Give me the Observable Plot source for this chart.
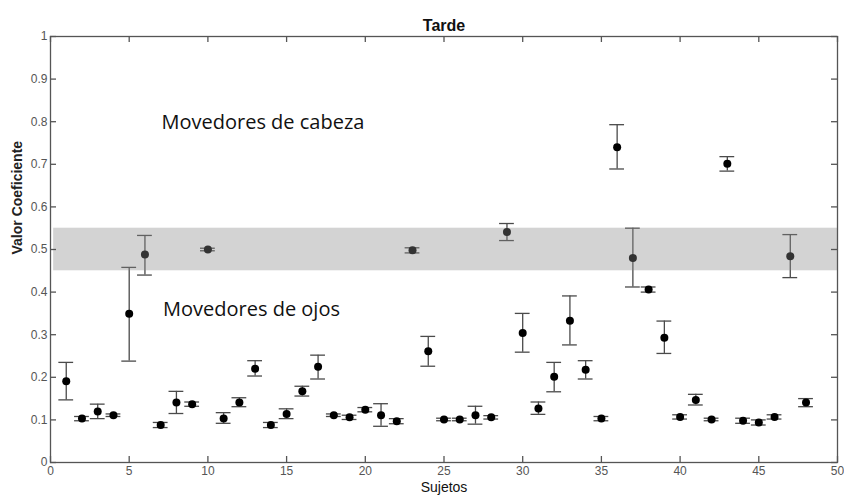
<!DOCTYPE html>
<html>
<head>
<meta charset="utf-8">
<script src="https://cdn.jsdelivr.net/npm/d3@7"></script>
<script src="https://cdn.jsdelivr.net/npm/@observablehq/plot@0.6"></script>
<style>
  html, body { margin: 0; padding: 0; background: #fff; }
  svg { display: block; }
</style>
</head>
<body>
<div id="chart"></div>
<script>
// Subjects (x) and coefficient values with error bar bounds
const subjects = [1,2,3,4,5,6,7,8,9,10,11,12,13,14,15,16,17,18,19,20,21,22,23,24,25,26,27,28,29,30,31,32,33,34,35,36,37,38,39,40,41,42,43,44,45,46,47,48];
const values = [0.191,0.103,0.120,0.111,0.349,0.488,0.088,0.141,0.137,0.500,0.103,0.141,0.220,0.088,0.114,0.167,0.225,0.111,0.106,0.124,0.111,0.097,0.498,0.261,0.101,0.101,0.111,0.106,0.541,0.304,0.127,0.201,0.333,0.218,0.103,0.740,0.480,0.406,0.293,0.107,0.147,0.101,0.701,0.098,0.094,0.107,0.484,0.141];
const lower  = [0.147,0.098,0.103,0.108,0.238,0.440,0.082,0.115,0.132,0.497,0.092,0.131,0.203,0.082,0.103,0.156,0.196,0.108,0.101,0.119,0.085,0.091,0.492,0.226,0.098,0.098,0.090,0.102,0.521,0.259,0.113,0.166,0.276,0.196,0.098,0.689,0.412,0.400,0.256,0.102,0.135,0.098,0.684,0.092,0.088,0.102,0.434,0.131];
const upper  = [0.235,0.108,0.137,0.114,0.458,0.533,0.094,0.167,0.142,0.503,0.117,0.152,0.239,0.094,0.126,0.179,0.252,0.114,0.111,0.129,0.138,0.103,0.504,0.296,0.104,0.104,0.132,0.110,0.561,0.350,0.142,0.235,0.391,0.239,0.108,0.793,0.550,0.412,0.332,0.112,0.160,0.104,0.718,0.104,0.100,0.112,0.535,0.150];

const xTicks = [0,5,10,15,20,25,30,35,40,45,50];
const yTicks = [0,0.1,0.2,0.3,0.4,0.5,0.6,0.7,0.8,0.9,1];
const yTickLabels = ["0","0.1","0.2","0.3","0.4","0.5","0.6","0.7","0.8","0.9","1"];

const band = [{x1: 0.2, x2: 50, y1: 0.45, y2: 0.55}];
const annotations = [
  {x: 7.05, y: 0.783, text: "Movedores de cabeza"},
  {x: 7.15, y: 0.343, text: "Movedores de ojos"}
];
const title = "Tarde";
const xLabel = "Sujetos";
const yLabel = "Valor Coeficiente";

const data = subjects.map((s, i) => ({x: s, y: values[i], lo: lower[i], hi: upper[i]}));

const W = 844, H = 496;
const mL = 50, mR = 7, mT = 36, mB = 34;
const plotW = W - mL - mR, plotH = H - mT - mB;
const tickLen = 6;
const capHalf = 0.47;
const axisColor = "#555";

const chart = Plot.plot({
  width: W,
  height: H,
  marginLeft: mL,
  marginRight: mR,
  marginTop: mT,
  marginBottom: mB,
  style: {fontFamily: "'Liberation Sans', Arial, sans-serif", background: "#fff"},
  x: {domain: [0, 50]},
  y: {domain: [0, 1]},
  marks: [
    // error bars
    Plot.ruleX(data, {x: "x", y1: "lo", y2: "hi", stroke: "#4a4a4a", strokeWidth: 1.3}),
    Plot.ruleY(data, {y: "lo", x1: d => d.x - capHalf, x2: d => d.x + capHalf, stroke: "#4a4a4a", strokeWidth: 1.3}),
    Plot.ruleY(data, {y: "hi", x1: d => d.x - capHalf, x2: d => d.x + capHalf, stroke: "#4a4a4a", strokeWidth: 1.3}),
    Plot.dot(data, {x: "x", y: "y", r: 4, fill: "#000", stroke: "none"}),
    // translucent gray band on top
    Plot.rect(band, {x1: "x1", x2: "x2", y1: "y1", y2: "y2", fill: "#898989", fillOpacity: 0.373}),
    // annotations
    Plot.text(annotations, {x: "x", y: "y", text: "text", textAnchor: "start", lineAnchor: "bottom",
      fontFamily: "'Open Sans', sans-serif", fontSize: 20, fill: "#111"}),
    // frame
    Plot.frame({stroke: axisColor, strokeWidth: 1.3}),
    // inward ticks
    Plot.tickX(xTicks, {x: d => d, insetTop: plotH - tickLen, stroke: axisColor, strokeWidth: 1.3}),
    Plot.tickX(xTicks, {x: d => d, insetBottom: plotH - tickLen, stroke: axisColor, strokeWidth: 1.3}),
    Plot.tickY(yTicks, {y: d => d, insetRight: plotW - tickLen, stroke: axisColor, strokeWidth: 1.3}),
    Plot.tickY(yTicks, {y: d => d, insetLeft: plotW - tickLen, stroke: axisColor, strokeWidth: 1.3}),
    // tick labels
    Plot.axisX({ticks: xTicks, tickSize: 0, tickPadding: 4, label: null, fontSize: 12, fill: "#555", tickFormat: d => String(d)}),
    Plot.axisY({ticks: yTicks, tickSize: 0, tickPadding: 3, label: null, fontSize: 12, fill: "#555", tickFormat: (d, i) => yTickLabels[i]}),
    // titles
    Plot.text([title], {frameAnchor: "top", dy: -17, fontSize: 16, fontWeight: "bold", fill: "#111"}),
    Plot.text([xLabel], {frameAnchor: "bottom", dy: 29, fontSize: 14, fill: "#111"}),
    Plot.text([yLabel], {frameAnchor: "left", dx: -33, dy: 5, rotate: -90, fontSize: 14, fontWeight: "bold", fill: "#222"})
  ]
});
document.getElementById("chart").appendChild(chart);
</script>
</body>
</html>
